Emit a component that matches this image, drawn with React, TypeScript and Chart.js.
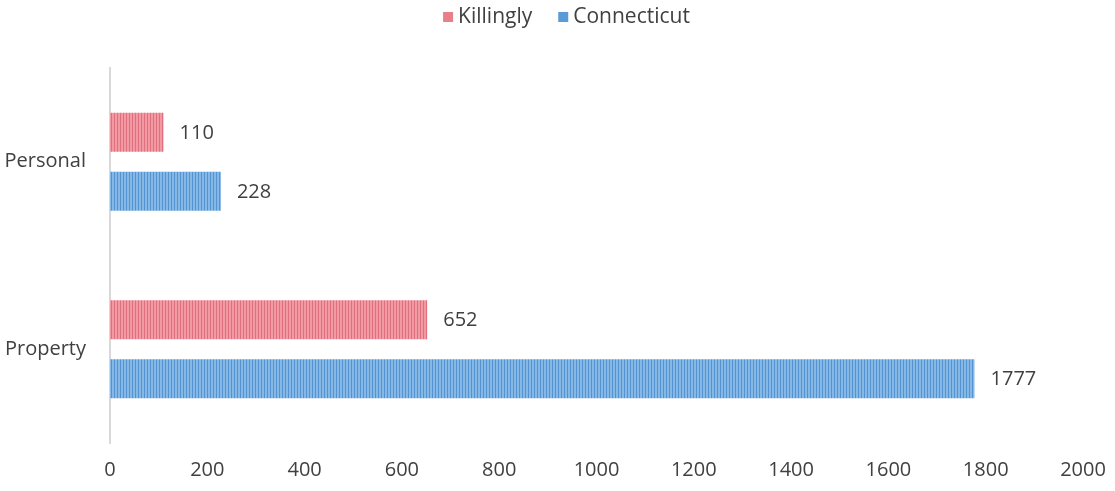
import React, { useEffect, useRef } from "react";
import { Chart, registerables } from "chart.js";

Chart.register(...registerables);

const categories = ["Personal", "Property"];
const seriesNames = ["Killingly", "Connecticut"];
const killingly = [110, 652];
const connecticut = [228, 1777];
const xTicks = [0, 200, 400, 600, 800, 1000, 1200, 1400, 1600, 1800, 2000];

const FONT = "'Open Sans', sans-serif";
const TEXT = "#404040";

function stripePattern(base: string, line: string): CanvasPattern | string {
  const c = document.createElement("canvas");
  c.width = 3;
  c.height = 4;
  const g = c.getContext("2d");
  if (!g) return base;
  g.fillStyle = base;
  g.fillRect(0, 0, 3, 4);
  g.fillStyle = line;
  g.fillRect(0, 0, 1, 4);
  const p = g.createPattern(c, "repeat");
  return p || base;
}

export default function App() {
  const ref = useRef<HTMLCanvasElement>(null);

  useEffect(() => {
    const canvas = ref.current;
    if (!canvas) return;

    const legendColors = ["#e8808c", "#5b9bd5"];

    const valueLabels = {
      id: "valueLabels",
      afterDatasetsDraw(chart: any) {
        const ctx = chart.ctx;
        ctx.save();
        ctx.font = `20px ${FONT}`;
        ctx.fillStyle = TEXT;
        ctx.textAlign = "left";
        ctx.textBaseline = "middle";
        chart.data.datasets.forEach((ds: any, di: number) => {
          const meta = chart.getDatasetMeta(di);
          meta.data.forEach((el: any, i: number) => {
            ctx.fillText(String(ds.data[i]), el.x + 16, el.y + 1);
          });
        });
        ctx.restore();
      },
    };

    const customLegend = {
      id: "customLegend",
      afterDraw(chart: any) {
        const ctx = chart.ctx;
        ctx.save();
        ctx.font = `21px ${FONT}`;
        ctx.textBaseline = "middle";
        ctx.textAlign = "left";
        const box = 10;
        const gap = 5;
        const spacing = 26;
        const widths = seriesNames.map((n) => ctx.measureText(n).width);
        const total =
          widths.reduce((a, w) => a + box + gap + w, 0) + spacing * (seriesNames.length - 1);
        let x = chart.width / 2 + 9 - total / 2;
        const y = 17;
        seriesNames.forEach((n, i) => {
          ctx.fillStyle = legendColors[i];
          ctx.fillRect(x, y - box / 2, box, box);
          x += box + gap;
          ctx.fillStyle = TEXT;
          ctx.fillText(n, x, y);
          x += widths[i] + spacing;
        });
        ctx.restore();
      },
    };

    const chart = new Chart(canvas, {
      type: "bar",
      data: {
        labels: categories,
        datasets: [
          {
            label: seriesNames[0],
            data: killingly,
            backgroundColor: stripePattern("#f29aa3", "#e0707d") as any,
            borderWidth: 0,
            categoryPercentage: 0.63,
            barPercentage: 0.66,
          },
          {
            label: seriesNames[1],
            data: connecticut,
            backgroundColor: stripePattern("#86b8e6", "#5594d4") as any,
            borderWidth: 0,
            categoryPercentage: 0.63,
            barPercentage: 0.66,
          },
        ],
      },
      options: {
        indexAxis: "y",
        responsive: false,
        animation: false,
        layout: { padding: { top: 68, right: 32, bottom: 0, left: 0 } },
        plugins: {
          legend: { display: false },
          tooltip: { enabled: false },
        },
        scales: {
          x: {
            min: 0,
            max: 2000,
            afterFit(scale: any) {
              scale.height = 48;
              scale.paddingLeft = 0;
              scale.paddingRight = 0;
            },
            afterBuildTicks(scale: any) {
              scale.ticks = xTicks.map((v) => ({ value: v }));
            },
            grid: { display: false, drawTicks: false },
            border: { display: false },
            ticks: {
              padding: 15,
              color: TEXT,
              font: { family: FONT, size: 20 },
              maxRotation: 0,
              callback: (v: any) => String(v),
            },
          },
          y: {
            afterFit(scale: any) {
              scale.width = 110;
            },
            grid: { display: false, drawTicks: false },
            border: { display: true, color: "#d9d9d9", width: 2 },
            ticks: {
              padding: 24,
              color: TEXT,
              font: { family: FONT, size: 20 },
            },
          },
        },
      },
      plugins: [valueLabels, customLegend],
    } as any);

    return () => chart.destroy();
  }, []);

  return (
    <div style={{ position: "fixed", left: 0, top: 0, width: 1115, height: 491, background: "#fff" }}>
      <canvas ref={ref} width={1115} height={491} style={{ width: 1115, height: 491 }} />
    </div>
  );
}
